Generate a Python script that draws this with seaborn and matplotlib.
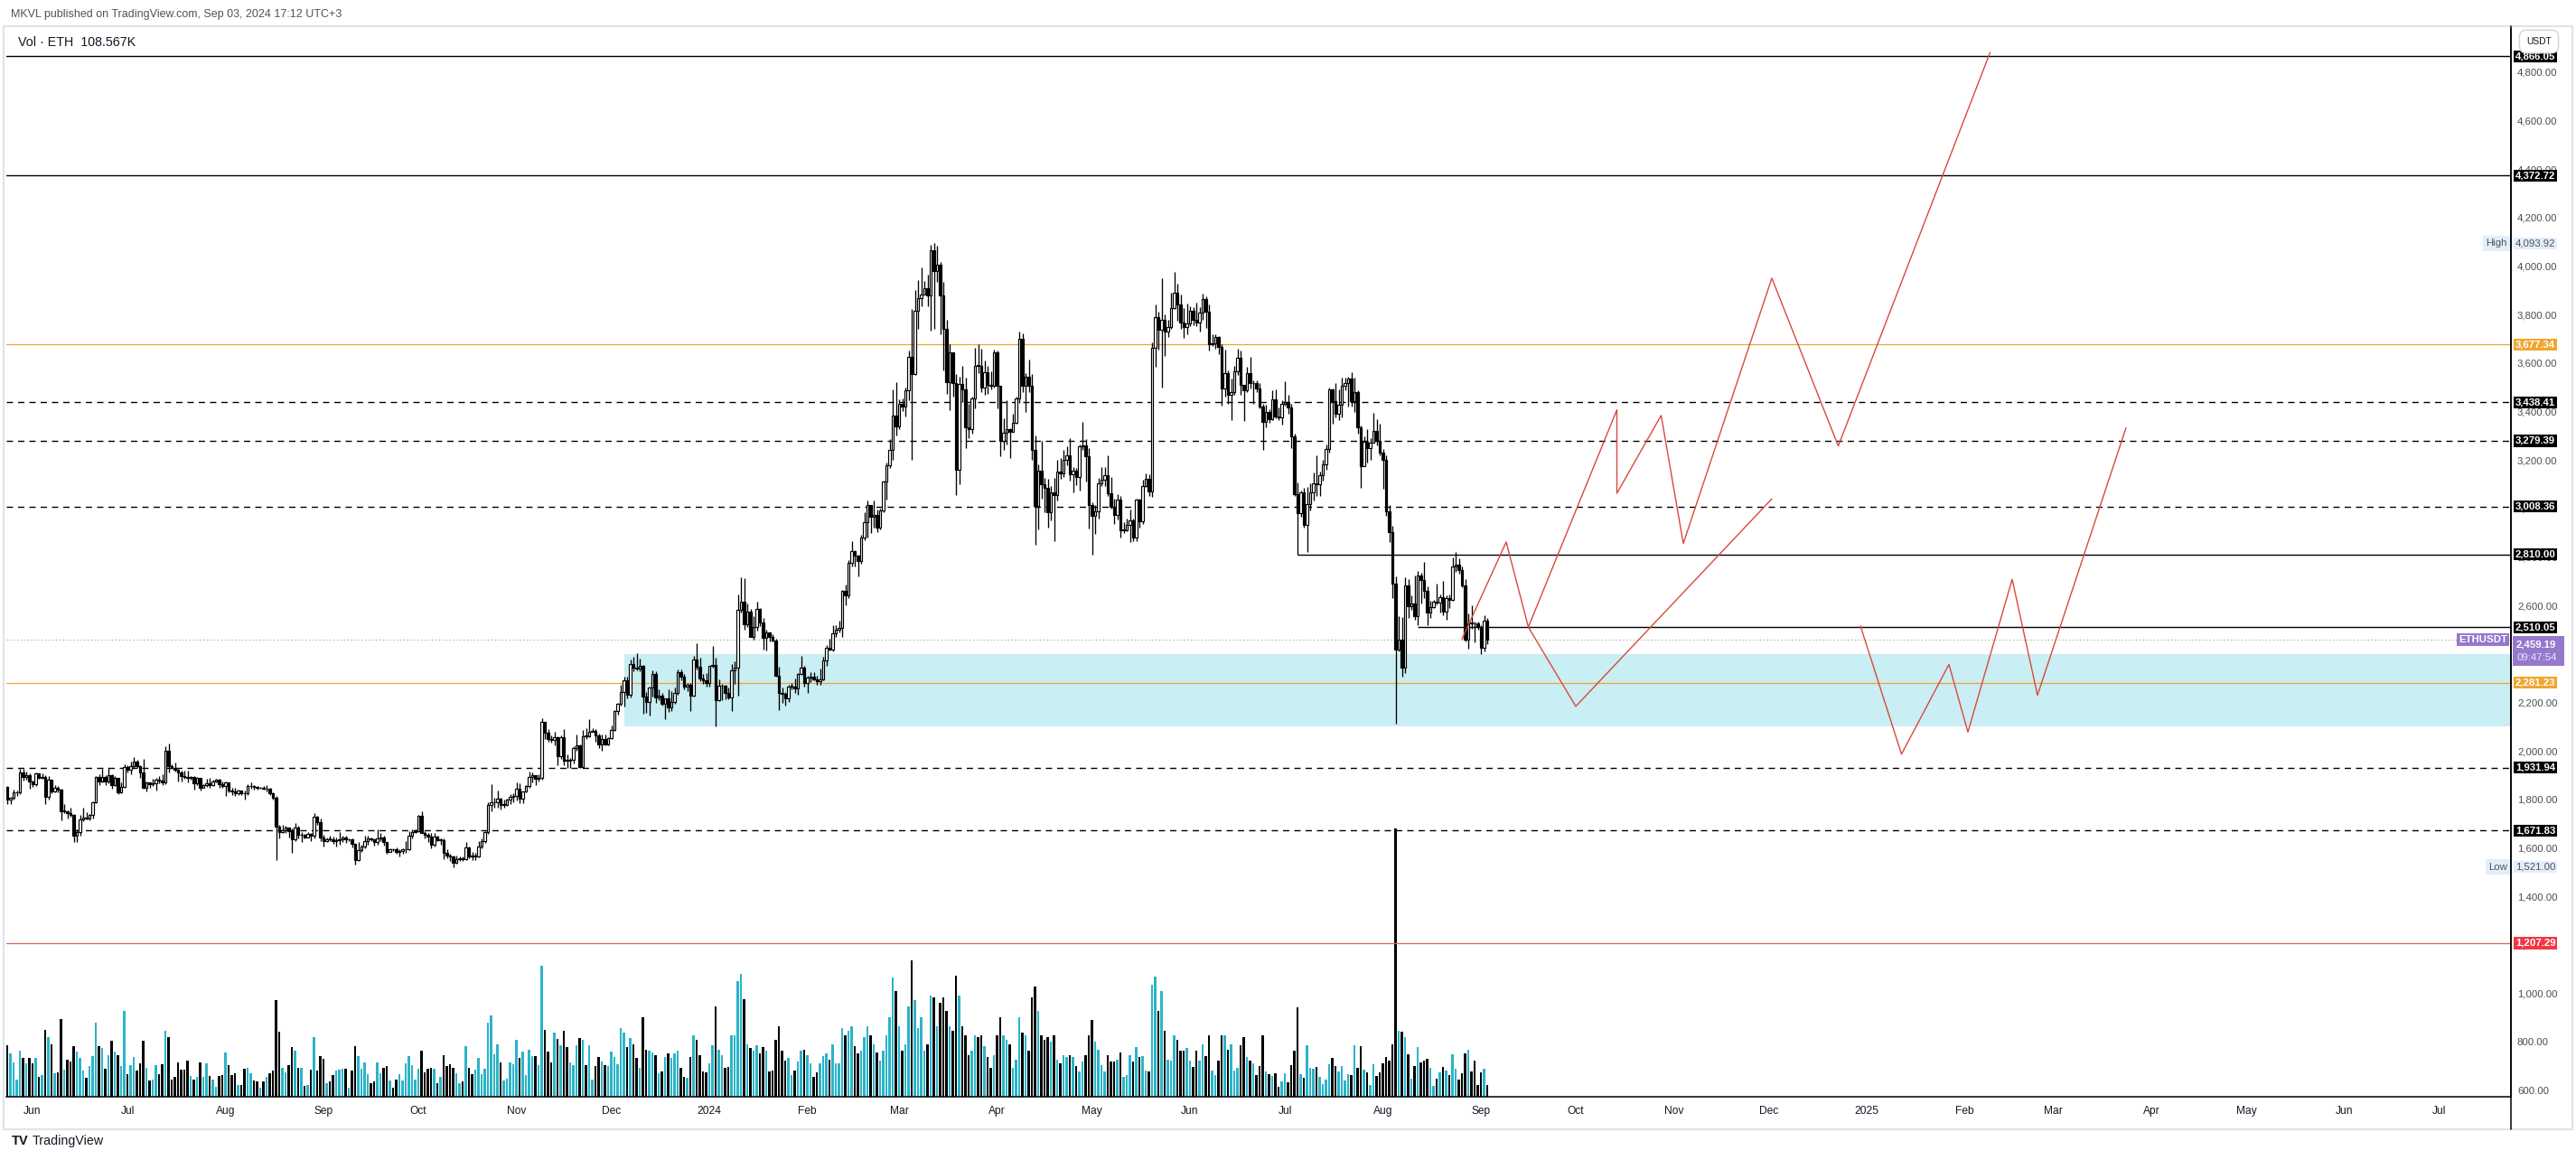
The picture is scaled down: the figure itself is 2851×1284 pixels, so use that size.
import matplotlib
matplotlib.use("Agg")
import matplotlib.pyplot as plt
import matplotlib.dates as mdates
import matplotlib.transforms as mtransforms
from matplotlib import font_manager
from matplotlib.patches import Rectangle
from matplotlib.lines import Line2D
import numpy as np
import pandas as pd
import seaborn as sns

# ---- daily ETHUSDT candles, 2023-05-24 .. 2024-09-03 ----
START = "2023-05-24"
first_open = 1851

close_px = [
    1800, 1806, 1828, 1830, 1910, 1892, 1902, 1874,
    # 2023-06
    1862, 1907, 1890, 1893, 1810, 1882, 1832, 1847, 1840, 1752,
    1752, 1742, 1737, 1650, 1666, 1718, 1727, 1720, 1736, 1790,
    1892, 1875, 1893, 1875, 1902, 1860, 1888, 1830, 1851, 1934,
    # 2023-07
    1924, 1937, 1955, 1937, 1910, 1850, 1871, 1862, 1866, 1880,
    1879, 1871, 2000, 1937, 1932, 1924, 1911, 1898, 1892, 1891,
    1892, 1866, 1890, 1850, 1859, 1868, 1860, 1874, 1880, 1862, 1856,
    # 2023-08
    1870, 1838, 1835, 1827, 1836, 1826, 1825, 1854, 1855, 1851,
    1848, 1850, 1843, 1843, 1826, 1807, 1688, 1666, 1672, 1683,
    1668, 1634, 1684, 1654, 1655, 1645, 1657, 1652, 1728, 1705, 1645,
    # 2023-09
    1628, 1637, 1636, 1627, 1632, 1634, 1645, 1635, 1635, 1617,
    1551, 1591, 1607, 1627, 1641, 1635, 1623, 1638, 1645, 1624,
    1585, 1594, 1593, 1582, 1587, 1593, 1595, 1651, 1666, 1670,
    # 2023-10
    1733, 1663, 1655, 1647, 1612, 1647, 1633, 1633, 1579, 1567,
    1565, 1539, 1553, 1557, 1555, 1601, 1566, 1565, 1566, 1605,
    1630, 1664, 1777, 1787, 1788, 1804, 1778, 1778, 1800, 1810, 1815,
    # 2023-11
    1846, 1802, 1833, 1855, 1893, 1900, 1885, 1888, 2121, 2077,
    2051, 2045, 2055, 1979, 2055, 1961, 1960, 1963, 2012, 2022,
    1933, 2062, 2061, 2081, 2083, 2063, 2027, 2049, 2028, 2052,
    # 2023-12
    2087, 2166, 2194, 2242, 2293, 2233, 2358, 2345, 2340, 2353,
    2225, 2202, 2260, 2316, 2220, 2228, 2196, 2217, 2178, 2201,
    2240, 2325, 2307, 2264, 2273, 2230, 2379, 2346, 2298, 2292, 2281,
    # 2024-01
    2352, 2356, 2209, 2268, 2268, 2240, 2221, 2331, 2344, 2584,
    2617, 2523, 2576, 2472, 2510, 2587, 2529, 2467, 2490, 2470,
    2455, 2310, 2240, 2235, 2218, 2267, 2267, 2257, 2317, 2343, 2282,
    # 2024-02
    2304, 2308, 2297, 2289, 2297, 2372, 2425, 2419, 2486, 2500,
    2507, 2660, 2642, 2777, 2823, 2804, 2785, 2880, 2944, 3013,
    2967, 2972, 2921, 2992, 3112, 3178, 3242, 3384, 3340,
    # 2024-03
    3433, 3421, 3487, 3627, 3553, 3817, 3868, 3883, 3907, 3879,
    4066, 3980, 4004, 3880, 3741, 3523, 3644, 3519, 3159, 3515,
    3492, 3334, 3329, 3456, 3590, 3589, 3500, 3561, 3510, 3508, 3646,
    # 2024-04
    3506, 3279, 3313, 3328, 3318, 3353, 3453, 3700, 3505, 3543,
    3505, 3241, 3011, 3157, 3101, 3084, 2985, 3067, 3055, 3154,
    3146, 3200, 3219, 3140, 3155, 3130, 3255, 3262, 3216, 3014,
    # 2024-05
    2971, 2989, 3103, 3117, 3137, 3064, 3008, 2975, 3036, 2911,
    2912, 2932, 2950, 2880, 3037, 2946, 3092, 3121, 3071, 3662,
    3790, 3738, 3779, 3729, 3747, 3826, 3892, 3842, 3767, 3747, 3762,
    # 2024-06
    3815, 3780, 3767, 3810, 3865, 3813, 3678, 3681, 3706, 3667,
    3497, 3560, 3469, 3482, 3566, 3620, 3509, 3486, 3560, 3516,
    3517, 3497, 3421, 3357, 3397, 3370, 3451, 3378, 3377, 3432,
    # 2024-07
    3439, 3418, 3297, 3059, 2982, 3067, 2932, 3017, 3066, 3103,
    3100, 3136, 3182, 3245, 3490, 3444, 3389, 3427, 3505, 3517,
    3535, 3442, 3480, 3336, 3174, 3275, 3250, 3270, 3320, 3279, 3232,
    # 2024-08
    3201, 2988, 2902, 2690, 2418, 2461, 2343, 2683, 2597, 2610,
    2555, 2723, 2705, 2662, 2570, 2592, 2616, 2612, 2636, 2573,
    2630, 2622, 2762, 2769, 2748, 2682, 2458, 2528, 2527, 2526, 2513,
    # 2024-09
    2425, 2538, 2459,
]

high_px = [
    1857, 1812, 1841, 1836, 1925, 1927, 1917, 1907,
    1879, 1913, 1908, 1906, 1899, 1895, 1883, 1860, 1857, 1846,
    1780, 1754, 1766, 1741, 1676, 1738, 1765, 1747, 1741, 1793,
    1897, 1903, 1925, 1900, 1930, 1904, 1898, 1888, 1872, 1945,
    1941, 1955, 1976, 1965, 1941, 1969, 1875, 1872, 1886, 1890,
    1895, 1904, 2020, 2030, 1945, 1953, 1925, 1918, 1919, 1920,
    1898, 1898, 1894, 1890, 1864, 1885, 1890, 1882, 1886, 1885, 1874,
    1875, 1870, 1848, 1850, 1840, 1838, 1838, 1863, 1870, 1860,
    1857, 1853, 1856, 1860, 1848, 1830, 1815, 1696, 1695, 1693,
    1686, 1680, 1702, 1690, 1665, 1657, 1666, 1662, 1745, 1733, 1720,
    1656, 1642, 1650, 1648, 1642, 1665, 1650, 1652, 1640, 1640,
    1617, 1625, 1612, 1650, 1652, 1645, 1640, 1675, 1660, 1650,
    1626, 1600, 1600, 1602, 1593, 1600, 1629, 1668, 1675, 1677,
    1737, 1750, 1670, 1660, 1660, 1660, 1651, 1640, 1638, 1595,
    1575, 1570, 1570, 1565, 1565, 1626, 1606, 1582, 1580, 1630,
    1640, 1668, 1790, 1864, 1806, 1837, 1809, 1800, 1805, 1823, 1826,
    1869, 1867, 1835, 1859, 1914, 1910, 1899, 1904, 2136, 2118,
    2090, 2066, 2080, 2062, 2066, 2090, 1985, 1970, 2018, 2068,
    2028, 2088, 2093, 2130, 2093, 2091, 2070, 2068, 2069, 2055,
    2105, 2170, 2200, 2274, 2307, 2308, 2379, 2390, 2403, 2380,
    2355, 2245, 2267, 2334, 2330, 2255, 2240, 2218, 2256, 2247,
    2262, 2336, 2335, 2318, 2282, 2280, 2392, 2446, 2385, 2318, 2322,
    2352, 2432, 2384, 2294, 2278, 2273, 2260, 2358, 2370, 2645,
    2717, 2713, 2609, 2585, 2555, 2614, 2590, 2550, 2500, 2488,
    2480, 2463, 2347, 2262, 2242, 2272, 2279, 2300, 2322, 2392, 2350,
    2309, 2325, 2325, 2310, 2339, 2390, 2437, 2462, 2520, 2520,
    2538, 2665, 2687, 2788, 2866, 2827, 2809, 2890, 2983, 3033,
    3014, 3033, 2994, 3000, 3116, 3188, 3288, 3490, 3523,
    3450, 3455, 3500, 3650, 3822, 3900, 3942, 3995, 3939, 3964,
    4086, 4094, 4083, 4015, 3935, 3780, 3677, 3611, 3554, 3545,
    3588, 3539, 3432, 3460, 3662, 3676, 3660, 3611, 3587, 3566, 3657,
    3650, 3506, 3374, 3445, 3330, 3390, 3460, 3730, 3724, 3557,
    3614, 3555, 3300, 3183, 3279, 3125, 3124, 3094, 3128, 3200,
    3210, 3240, 3256, 3291, 3172, 3166, 3265, 3356, 3286, 3248,
    3024, 3016, 3127, 3171, 3171, 3221, 3130, 3041, 3058, 3053,
    2945, 2960, 2995, 2960, 3040, 3041, 3120, 3146, 3142, 3687,
    3840, 3812, 3950, 3800, 3780, 3891, 3977, 3929, 3881, 3825, 3846,
    3835, 3830, 3850, 3830, 3888, 3877, 3840, 3717, 3718, 3712,
    3678, 3657, 3570, 3536, 3588, 3660, 3650, 3510, 3585, 3627,
    3528, 3527, 3518, 3430, 3429, 3410, 3486, 3493, 3418, 3448,
    3526, 3468, 3433, 3310, 3109, 3075, 3087, 3090, 3103, 3148,
    3220, 3152, 3200, 3265, 3499, 3497, 3517, 3490, 3540, 3540,
    3545, 3563, 3541, 3486, 3343, 3296, 3328, 3291, 3396, 3370, 3350,
    3244, 3221, 3015, 2928, 2720, 2556, 2553, 2717, 2708, 2643,
    2722, 2741, 2736, 2780, 2680, 2620, 2625, 2690, 2646, 2700,
    2643, 2645, 2799, 2820, 2795, 2762, 2708, 2567, 2600, 2535, 2535,
    2518, 2560, 2550,
]

low_px = [
    1780, 1780, 1798, 1815, 1823, 1879, 1880, 1846,
    1853, 1855, 1885, 1884, 1780, 1800, 1825, 1830, 1830, 1713,
    1744, 1722, 1728, 1626, 1626, 1652, 1712, 1718, 1715, 1723,
    1783, 1860, 1870, 1860, 1868, 1846, 1857, 1822, 1826, 1850,
    1912, 1905, 1932, 1930, 1890, 1843, 1835, 1850, 1855, 1838,
    1866, 1860, 1863, 1910, 1925, 1915, 1873, 1876, 1885, 1870,
    1882, 1840, 1860, 1838, 1847, 1853, 1850, 1856, 1870, 1848, 1850,
    1816, 1830, 1820, 1815, 1820, 1818, 1800, 1820, 1846, 1842,
    1840, 1845, 1840, 1835, 1818, 1800, 1550, 1640, 1660, 1662,
    1645, 1581, 1630, 1640, 1625, 1640, 1642, 1630, 1641, 1695, 1630,
    1606, 1623, 1630, 1618, 1605, 1612, 1624, 1620, 1630, 1603,
    1532, 1545, 1582, 1600, 1615, 1630, 1610, 1615, 1630, 1610,
    1577, 1582, 1588, 1578, 1565, 1578, 1580, 1590, 1640, 1660,
    1665, 1660, 1640, 1625, 1600, 1605, 1628, 1615, 1552, 1557,
    1545, 1521, 1535, 1546, 1545, 1550, 1557, 1550, 1550, 1562,
    1600, 1620, 1658, 1751, 1767, 1767, 1760, 1765, 1772, 1782, 1789,
    1795, 1785, 1783, 1828, 1848, 1870, 1860, 1873, 1880, 2050,
    2040, 2036, 2022, 1940, 1968, 1940, 1932, 1930, 1950, 2000,
    1930, 1930, 2048, 2055, 2078, 2040, 2012, 2000, 2023, 2025,
    2051, 2084, 2150, 2186, 2185, 2218, 2222, 2327, 2333, 2328,
    2155, 2156, 2145, 2223, 2200, 2210, 2188, 2133, 2163, 2165,
    2195, 2232, 2290, 2254, 2247, 2165, 2224, 2337, 2288, 2275, 2265,
    2265, 2345, 2100, 2206, 2208, 2214, 2212, 2166, 2275, 2230,
    2570, 2500, 2510, 2470, 2460, 2495, 2514, 2420, 2415, 2452,
    2450, 2305, 2168, 2198, 2187, 2203, 2253, 2240, 2232, 2315, 2266,
    2240, 2285, 2292, 2272, 2272, 2292, 2350, 2414, 2410, 2470,
    2490, 2470, 2600, 2630, 2761, 2760, 2720, 2774, 2870, 2881,
    2900, 2920, 2902, 2914, 2983, 3037, 3168, 3200, 3300,
    3328, 3402, 3380, 3446, 3200, 3550, 3742, 3834, 3883, 3833,
    3733, 3740, 3936, 3720, 3570, 3473, 3407, 3460, 3056, 3100,
    3438, 3250, 3292, 3310, 3414, 3560, 3480, 3468, 3472, 3490, 3500,
    3414, 3215, 3242, 3265, 3210, 3315, 3350, 3435, 3480, 3400,
    3480, 3200, 2852, 2915, 3040, 2986, 2920, 2952, 2867, 3032,
    3121, 3130, 3177, 3114, 3066, 3098, 3075, 3240, 3111, 2916,
    2810, 2894, 2957, 3093, 3092, 3052, 3000, 2935, 2953, 2880,
    2900, 2905, 2860, 2865, 2867, 2922, 2935, 3088, 3050, 3048,
    3585, 3654, 3500, 3630, 3706, 3740, 3823, 3773, 3741, 3702, 3720,
    3752, 3755, 3752, 3731, 3780, 3745, 3650, 3671, 3660, 3636,
    3426, 3463, 3433, 3366, 3469, 3551, 3470, 3360, 3480, 3495,
    3432, 3482, 3413, 3240, 3335, 3355, 3365, 3371, 3366, 3346,
    3425, 3390, 3250, 3050, 2810, 2965, 2920, 2822, 2992, 3034,
    3052, 3050, 3116, 3160, 3232, 3350, 3375, 3365, 3375, 3488,
    3422, 3420, 3400, 3310, 3087, 3173, 3190, 3201, 3295, 3260, 3220,
    3080, 2970, 2860, 2630, 2111, 2410, 2308, 2320, 2550, 2583,
    2543, 2520, 2610, 2630, 2520, 2550, 2590, 2605, 2570, 2560,
    2540, 2590, 2620, 2740, 2732, 2676, 2450, 2422, 2505, 2447, 2500,
    2400, 2411, 2440,
]

# volume in thousand ETH
volume_k = [
    470, 390, 310, 160, 420, 350, 300, 350, 300, 350,
    180, 195, 610, 540, 475, 215, 225, 705, 245, 340,
    320, 460, 410, 350, 235, 175, 275, 370, 670, 460,
    445, 255, 380, 505, 410, 380, 275, 780, 205, 285,
    360, 235, 300, 505, 260, 150, 160, 285, 205, 295,
    600, 540, 160, 180, 315, 245, 245, 330, 190, 160,
    180, 315, 180, 300, 190, 160, 90, 190, 195, 400,
    285, 195, 215, 110, 110, 255, 260, 215, 150, 140,
    80, 140, 180, 215, 235, 880, 590, 260, 225, 285,
    450, 420, 260, 260, 100, 110, 245, 540, 235, 370,
    345, 120, 140, 195, 235, 245, 255, 255, 80, 235,
    460, 370, 255, 315, 205, 120, 140, 315, 215, 260,
    275, 150, 80, 160, 205, 150, 300, 370, 285, 160,
    255, 420, 225, 255, 260, 255, 120, 180, 380, 275,
    295, 260, 215, 120, 140, 460, 260, 205, 245, 350,
    205, 255, 670, 735, 385, 475, 315, 150, 165, 315,
    295, 515, 350, 410, 195, 430, 370, 370, 285, 1190,
    610, 410, 315, 580, 525, 470, 600, 450, 315, 285,
    470, 535, 515, 285, 470, 160, 275, 360, 320, 285,
    275, 410, 360, 295, 620, 580, 450, 535,
    # 2023-12-08 .. 12-31
    480, 350, 260, 720, 430, 420, 400, 380, 210, 230, 360, 390,
    350, 390, 420, 260, 180, 170, 360, 560, 520, 380, 230, 220,
    # 2024-01
    300, 470, 820, 430, 380, 260, 270, 560, 560, 1050,
    1120, 890, 480, 440, 420, 470, 390, 450, 420, 230,
    240, 520, 640, 420, 330, 350, 200, 240, 320, 420, 430,
    # 2024-02
    380, 300, 180, 220, 300, 370, 390, 340, 480, 300,
    300, 620, 560, 600, 640, 460, 390, 420, 540, 640,
    560, 480, 400, 330, 420, 560, 720, 1080, 960,
    # 2024-03
    640, 420, 480, 820, 1240, 880, 620, 720, 420, 480,
    920, 900, 640, 850, 900, 780, 640, 600, 1100, 920,
    640, 560, 380, 420, 560, 540, 560, 460, 360, 260, 380,
    # 2024-04
    560, 720, 560, 520, 480, 260, 340, 720, 580, 560,
    420, 900, 1000, 780, 560, 520, 540, 500, 560, 340,
    300, 380, 360, 380, 360, 280, 230, 320, 380, 560,
    # 2024-05
    700, 500, 430, 290, 230, 380, 320, 320, 340, 400,
    180, 200, 380, 320, 450, 360, 370, 240, 230, 1020,
    1090, 780, 960, 600, 340, 330, 560, 520, 420, 420, 440,
    # 2024-06-01 .. 06-24
    330, 270, 420, 330, 480, 370, 560, 240, 200, 330, 560, 560,
    430, 480, 240, 260, 470, 540, 360, 330, 300, 200, 280, 560,
    # 2024-06-25 .. 09-03
    230, 205, 190, 215, 93, 142, 215, 134, 290, 420,
    815, 208, 175, 470, 265, 257, 273, 183, 117, 160,
    298, 355, 282, 233, 282, 144, 208, 200, 470, 265,
    462, 250, 225, 110, 298, 192, 225, 306, 365, 325,
    480, 2440, 595, 590, 545, 385, 168, 283, 455, 310,
    325, 342, 260, 95, 168, 218, 268, 235, 195, 385,
    252, 152, 210, 393, 425, 228, 328, 103, 218, 252,
    108.567,
]

# ---- drawn levels ----
solid_levels = [4866.05, 4372.72]
dashed_levels = [3438.41, 3279.39, 3008.36, 1931.94, 1671.83]
orange_levels = [3677.34, 2281.23]
red_level = 1207.29
ray_levels = [2810.00, 2510.05]
ray_starts = ["2024-07-05", "2024-08-12"]
last_price = 2459.19
last_clock = "09:47:54"
high_value = 4093.92
low_value = 1521.00
zone_start = "2023-12-05"
zone_low, zone_high = 2100, 2398

# ---- projected paths ----
path_up_dates = ["2024-08-26", "2024-09-09", "2024-09-16", "2024-10-14", "2024-10-14",
                 "2024-10-28", "2024-11-04", "2024-12-02", "2024-12-23", "2025-02-09"]
path_up_prices = [2461, 2862, 2511, 3407, 3063, 3384, 2856, 3950, 3258, 4881]
path_mid_dates = ["2024-09-16", "2024-10-01", "2024-12-02"]
path_mid_prices = [2511, 2184, 3040]
path_low_dates = ["2024-12-30", "2025-01-12", "2025-01-27", "2025-02-02",
                  "2025-02-16", "2025-02-24", "2025-03-24"]
path_low_prices = [2516, 1987, 2357, 2078, 2708, 2230, 3333]

# ---- style ----
sns.set_style("white")
installed = {f.name for f in font_manager.fontManager.ttflist}
if "Liberation Sans Narrow" in installed:
    FONT, k = "Liberation Sans Narrow", 1.0
else:
    FONT, k = "Liberation Sans", 0.82
plt.rcParams["font.family"] = [FONT, "DejaVu Sans"]

TEAL = "#2ab4c8"
RED = "#d9483c"
ORANGE = "#f0a530"
PURPLE = "#9678cd"
LIGHTBLUE = "#e3eefa"

W, H = 2851, 1284
L, R, T, B = 7, 2779, 32, 1214
fig = plt.figure(figsize=(W / 100, H / 100), dpi=100)
fig.patch.set_facecolor("white")
rect = [L / W, 1 - B / H, (R - L) / W, (B - T) / H]
ax_v = fig.add_axes(rect)
ax = fig.add_axes(rect, sharex=ax_v)
ax.patch.set_visible(False)

dates = pd.date_range(START, periods=len(close_px), freq="D")
dnum = mdates.date2num(dates)
c = np.array(close_px, dtype=float)
o = np.array([first_open] + close_px[:-1], dtype=float)
hi = np.maximum(np.array(high_px, dtype=float), np.maximum(o, c))
lo = np.minimum(np.array(low_px, dtype=float), np.minimum(o, c))
up = c >= o

jun1 = mdates.date2num(pd.Timestamp("2023-06-01"))
px_per_day = 3.5
x_left = jun1 + (L - 36) / px_per_day
x_right = jun1 + (R - 36) / px_per_day

# volume
ax_v.bar(dnum, volume_k, width=0.62, color=np.where(up, TEAL, "black"), linewidth=0)
ax_v.set_ylim(0, 9700)
ax_v.axis("off")

# zone
zs = mdates.date2num(pd.Timestamp(zone_start))
ax.fill_between([zs, x_right], zone_low, zone_high, color="#c9eef3", lw=0, zorder=1)

# levels
for p in solid_levels:
    ax.axhline(p, color="black", lw=1.0, zorder=2)
for p in dashed_levels:
    ax.axhline(p, color="black", lw=1.0, ls=(0, (5, 4)), zorder=2)
for p in orange_levels:
    ax.axhline(p, color=ORANGE, lw=0.9, zorder=2)
ax.axhline(red_level, color="#e06060", lw=0.9, zorder=2)
for p, s in zip(ray_levels, ray_starts):
    ax.hlines(p, mdates.date2num(pd.Timestamp(s)), x_right, color="black", lw=1.0, zorder=2)
ax.axhline(last_price, color="#9598a1", lw=0.8, ls=(0, (1, 2.5)), zorder=2)

# candles
ax.vlines(dnum, lo, hi, color="black", lw=0.95, zorder=3)
body_h = np.maximum(np.abs(c - o), 2.0)
ax.bar(dnum, body_h, bottom=np.minimum(o, c), width=0.7,
       color=np.where(up, "white", "black"), edgecolor="black", linewidth=0.85, zorder=4)

# projections
proj = pd.concat([
    pd.DataFrame({"date": path_up_dates, "price": path_up_prices, "leg": "up"}),
    pd.DataFrame({"date": path_mid_dates, "price": path_mid_prices, "leg": "mid"}),
    pd.DataFrame({"date": path_low_dates, "price": path_low_prices, "leg": "low"}),
])
proj["x"] = mdates.date2num(pd.to_datetime(proj["date"]))
sns.lineplot(data=proj, x="x", y="price", units="leg", estimator=None, sort=False,
             color=RED, linewidth=1.0, ax=ax, legend=False, zorder=5)
ax.set_xlabel("")
ax.set_ylabel("")

ax.set_xlim(x_left, x_right)
ax.set_ylim(573.8, 4978.2)

# x axis
months = pd.date_range("2023-06-01", "2025-07-01", freq="MS")
ax.set_xticks(mdates.date2num(months))
ax.set_xticklabels([m.strftime("%Y") if m.month == 1 else m.strftime("%b") for m in months])
ax.tick_params(axis="x", length=0, pad=7, labelsize=10.5 * k, labelcolor="#131722")

# y axis
ax.yaxis.tick_right()
yt = list(range(600, 4801, 200))
ax.set_yticks(yt)
ax.set_yticklabels([f"{v:,.2f}" for v in yt])
ax.tick_params(axis="y", length=0, pad=5, labelsize=10 * k, labelcolor="#4a4d57")

for s in ["top", "left"]:
    ax.spines[s].set_visible(False)
ax.spines["right"].set_color("black")
ax.spines["bottom"].set_color("black")
ax.spines["right"].set_linewidth(1.1)
ax.spines["bottom"].set_linewidth(1.1)

tr = mtransforms.blended_transform_factory(ax.transAxes, ax.transData)
dx = 1.0 / (R - L)


def axis_tag(price, text, fc, tc="white", weight="bold"):
    ax.text(1 + 5 * dx, price, text, transform=tr, ha="left", va="center",
            fontsize=10 * k, color=tc, weight=weight, clip_on=False, zorder=10,
            bbox=dict(boxstyle="square,pad=0.14", fc=fc, ec="none"))


for p in solid_levels + dashed_levels + ray_levels:
    axis_tag(p, f"{p:,.2f}", "black")
for p in orange_levels:
    axis_tag(p, f"{p:,.2f}", ORANGE)
axis_tag(red_level, f"{red_level:,.2f}", "#f23645")

for p, name in [(high_value, "High"), (low_value, "Low")]:
    ax.text(1 - 4 * dx, p, name, transform=tr, ha="right", va="center", fontsize=10 * k,
            color="#50535e", clip_on=False, zorder=10,
            bbox=dict(boxstyle="square,pad=0.3", fc=LIGHTBLUE, ec="none"))
    axis_tag(p, f"{p:,.2f}", LIGHTBLUE, tc="#50535e", weight="normal")

# last price tag: purple two-line box just under the 2,510.05 tag
ax.text(1 - 4 * dx, last_price, "ETHUSDT", transform=tr, ha="right", va="center",
        fontsize=10 * k, color="white", weight="bold", clip_on=False, zorder=10,
        bbox=dict(boxstyle="square,pad=0.2", fc=PURPLE, ec="none"))
y_last = H - ax.transData.transform((x_left, last_price))[1]
box_top = y_last - 4
fig.add_artist(Rectangle((2781 / W, 1 - (box_top + 33) / H), 57 / W, 33 / H,
                         transform=fig.transFigure, fc=PURPLE, ec="none", zorder=15))
fig.text(2785 / W, 1 - (box_top + 9) / H, f"{last_price:,.2f}", ha="left", va="center",
         fontsize=10 * k, color="white", weight="bold", zorder=16)
fig.text(2785 / W, 1 - (box_top + 24) / H, last_clock, ha="left", va="center",
         fontsize=10 * k, color="#ece4fa", zorder=16)

# frame, header, pane label
fig.add_artist(Rectangle((4 / W, 1 - 1250 / H), (2847 - 4) / W, (1250 - 29) / H,
                         transform=fig.transFigure, fill=False, ec="#e0e3eb", lw=1.5))
fig.add_artist(Line2D([R / W, R / W], [1 - 1250 / H, 1 - 29 / H], transform=fig.transFigure,
                      color="black", lw=1.1))
fig.text(2810 / W, 1 - 46 / H, "USDT", ha="center", va="center", fontsize=9 * k, color="#131722",
         bbox=dict(boxstyle="round,pad=0.75", fc="white", ec="#d1d4dc"), zorder=20)
fig.text(12 / W, 1 - 16 / H, "MKVL published on TradingView.com, Sep 03, 2024 17:12 UTC+3",
         ha="left", va="center", fontsize=11 * k, color="#50535e")
fig.text(20 / W, 1 - 47 / H, "Vol \u00b7 ETH  108.567K", ha="left", va="center",
         fontsize=12.5 * k, color="#131722")
fig.text(13 / W, 1 - 1263 / H, "TV", ha="left", va="center", fontsize=13 * k,
         weight="heavy", color="#131722")
fig.text(36 / W, 1 - 1263 / H, "TradingView", ha="left", va="center", fontsize=12.5 * k,
         color="#131722")

fig.savefig("out.png", dpi=100)
